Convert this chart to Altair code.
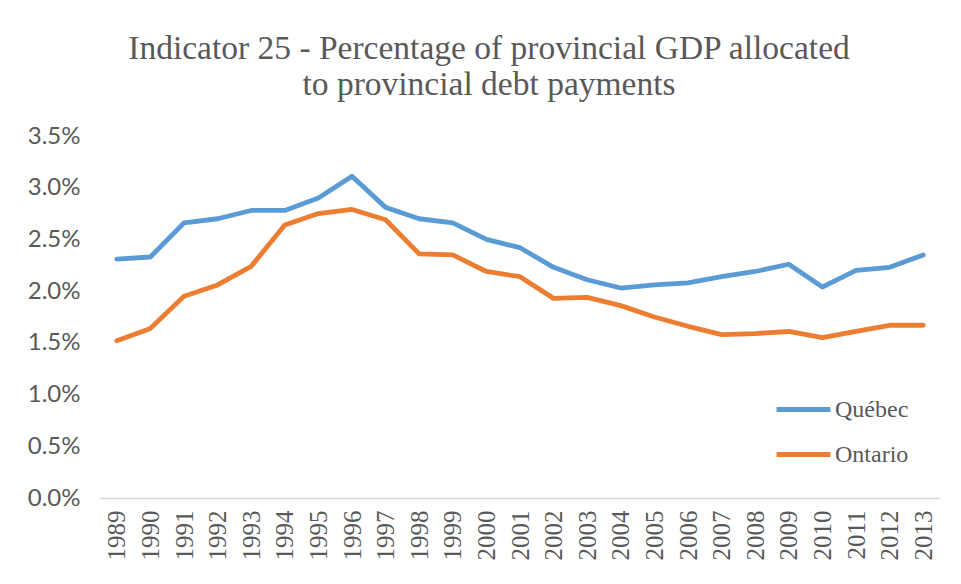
import altair as alt
import pandas as pd

years = [str(y) for y in range(1989, 2014)]
quebec = [2.31, 2.33, 2.66, 2.70, 2.78, 2.78, 2.90, 3.11, 2.81, 2.70, 2.66, 2.50, 2.42,
          2.23, 2.11, 2.03, 2.06, 2.08, 2.14, 2.19, 2.26, 2.04, 2.20, 2.23, 2.35]
ontario = [1.52, 1.64, 1.95, 2.06, 2.24, 2.64, 2.75, 2.79, 2.69, 2.36, 2.35, 2.19, 2.14,
           1.93, 1.94, 1.86, 1.75, 1.66, 1.58, 1.59, 1.61, 1.55, 1.61, 1.67, 1.67]
series = ["Québec", "Ontario"]
colors = ["#5B9BD5", "#ED7D31"]
y_ticks = [0, 0.5, 1.0, 1.5, 2.0, 2.5, 3.0, 3.5]

rows = []
for name, vals in zip(series, [quebec, ontario]):
    for yr, v in zip(years, vals):
        rows.append({"Year": yr, "Value": v, "Province": name})
df = pd.DataFrame(rows)

chart = alt.Chart(df).mark_line(strokeWidth=4.8, strokeCap="round", strokeJoin="round").encode(
    x=alt.X("Year:O", sort=years, title=None,
            scale=alt.Scale(type="point", padding=0.5),
            axis=alt.Axis(labelAngle=270, labelFont="Liberation Serif", labelFontSize=25,
                          labelColor="#595959", labelPadding=12, ticks=False,
                          domainColor="#D9D9D9", domainWidth=1.5)),
    y=alt.Y("Value:Q", title=None,
            scale=alt.Scale(domain=[0, 3.5], nice=False),
            axis=alt.Axis(values=y_ticks, labelExpr="format(datum.value, '.1f') + '%'",
                          labelFont="Lato", labelFontSize=24, labelColor="#595959",
                          labelPadding=20, ticks=False, domain=False, grid=False)),
    color=alt.Color("Province:N", sort=series,
                    scale=alt.Scale(domain=series, range=colors),
                    legend=alt.Legend(title=None, orient="none", legendX=674, legendY=244,
                                      symbolType="stroke", symbolSize=2900,
                                      symbolStrokeWidth=4.8, labelFont="Liberation Serif",
                                      labelFontSize=24, labelColor="#595959",
                                      labelOffset=2, rowPadding=3)),
).properties(
    width=840,
    height=362,
    title=alt.Title(["Indicator 25 - Percentage of provincial GDP allocated",
                     "to provincial debt payments"],
                    font="Liberation Serif", fontSize=33.5, fontWeight="normal",
                    color="#595959", anchor="middle", dx=-31, offset=22, lineHeight=36),
    autosize=alt.AutoSizeParams(type="none"),
    padding={"left": 92, "top": 128, "right": 13, "bottom": 70},
).configure_view(stroke=None)

chart.save("out.html", embed_options={"renderer": "svg", "actions": False})
